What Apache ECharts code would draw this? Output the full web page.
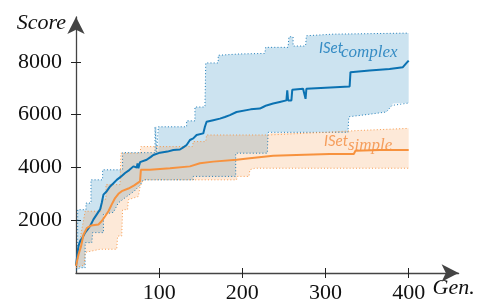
<!DOCTYPE html>
<html>
<head>
<meta charset="utf-8">
<script src="https://cdn.jsdelivr.net/npm/echarts@6/dist/echarts.min.js"></script>
<style>
  html, body { margin: 0; padding: 0; background: #fff; }
  #chart { width: 477px; height: 299px; }
</style>
</head>
<body>
<div id="chart"></div>
<script>
// tick positions
var xTicks = [100, 200, 300, 400]
var yTicks = [2000, 4000, 6000, 8000]

// ISet complex: median and band edges, [generation, score]
var complexMedian = [[0, 300], [1, 530], [3, 1030], [5, 1210], [8, 1350], [11, 1530], [14, 1650], [17, 1780], [21, 2030], [25, 2220],
  [29, 2410], [31, 2660], [33, 2970], [37, 3100], [41, 3280], [45, 3400], [49, 3530], [54, 3650], [59, 3790], [64, 3900],
  [69, 4040], [71, 4100], [73, 4000], [74, 4150], [75, 3970], [77, 4200], [79, 4220], [85, 4290], [90, 4400], [93, 4470],
  [101, 4560], [110, 4600], [117, 4660], [125, 4680], [129, 4760], [133, 4850], [137, 5040], [141, 5100], [145, 5230], [153, 5290],
  [155, 5540], [157, 5730], [165, 5790], [173, 5850], [179, 5910], [185, 5980], [193, 6100], [195, 6170], [210, 6200], [221, 6230],
  [225, 6290], [229, 6350], [237, 6420], [245, 6480], [253, 6540], [254, 6920], [255, 6540], [259, 6540], [260, 6940], [273, 6980],
  [275, 6980], [276, 6600], [277, 6980], [329, 7070], [330, 7610], [353, 7670], [377, 7730], [393, 7800], [398, 7980], [400, 8050]]
var complexUpper = [[0, 300], [2, 500], [2, 2400], [12, 2400], [12, 2650], [18, 2650], [18, 3530], [32, 3530], [32, 3910], [56, 3910],
  [56, 4560], [95, 4560], [95, 5540], [97, 5540], [97, 4600], [99, 4600], [99, 5540], [133, 5540], [133, 5765], [143, 5765],
  [143, 6290], [155, 6290], [156, 7960], [171, 7960], [171, 8250], [197, 8300], [227, 8320], [228, 8550], [255, 8550], [256, 8950],
  [261, 8950], [261, 8600], [276, 8600], [277, 8990], [309, 9050], [400, 9090]]
var complexLower = [[0, 100], [5, 200], [11, 200], [11, 1150], [19, 1150], [20, 1530], [33, 1530], [33, 2220], [45, 2300], [51, 2660],
  [59, 2850], [70, 3100], [77, 3330], [81, 3530], [141, 3530], [141, 3660], [192, 3660], [192, 4540], [230, 4540], [231, 5330],
  [327, 5330], [328, 5920], [349, 6000], [373, 6100], [380, 6350], [381, 6420], [400, 6440]]

// ISet simple: median and band edges
var simpleMedian = [[0, 270], [3, 700], [6, 1000], [9, 1450], [13, 1700], [18, 1800], [27, 1840], [31, 1970], [35, 2150], [39, 2340],
  [43, 2600], [47, 2840], [51, 3000], [55, 3100], [63, 3200], [70, 3320], [77, 3470], [78, 3910], [89, 3910], [113, 3970],
  [137, 4040], [149, 4160], [165, 4220], [193, 4290], [209, 4350], [237, 4440], [265, 4470], [305, 4510], [334, 4510], [336, 4630],
  [365, 4660], [400, 4660]]
var simpleUpper = [[0, 280], [5, 1300], [11, 2340], [30, 2340], [31, 2800], [36, 2800], [36, 3350], [53, 3350], [54, 4540], [77, 4540],
  [78, 4790], [140, 4790], [141, 4980], [156, 4980], [157, 5230], [232, 5230], [233, 5300], [300, 5330], [340, 5400], [400, 5480]]
var simpleLower = [[0, 200], [10, 300], [11, 780], [29, 900], [49, 900], [50, 1400], [55, 1400], [56, 2400], [62, 2400], [63, 2780],
  [75, 2900], [77, 3280], [81, 3530], [193, 3530], [194, 3660], [208, 3660], [209, 3910], [215, 3970], [400, 3970]]

var blue = '#0b72b2'
var orange = '#f7923e'
var serif = 'Liberation Serif'

function band (upper, lower, fill) {
  return function (params, api) {
    var pts = upper.map(function (p) { return api.coord(p) })
    var back = lower.slice().reverse().map(function (p) { return api.coord(p) })
    return {
      type: 'polygon',
      shape: { points: pts.concat(back) },
      style: { fill: fill },
      silent: true
    }
  }
}

function edge (data, color) {
  return {
    type: 'line', data: data, showSymbol: false, silent: true, z: 3,
    lineStyle: { color: color, width: 1, type: [1, 2.2], opacity: 0.9 }
  }
}

function median (data, color) {
  return {
    type: 'line', data: data, showSymbol: false, silent: true, z: 4,
    lineStyle: { color: color, width: 2 }
  }
}

function valueAxis (min, max, ticks, inside) {
  return {
    type: 'value', min: min, max: max,
    splitLine: { show: false },
    axisLine: inside ? { show: false } : {
      show: true, symbol: ['none', 'arrow'], symbolSize: [13, 17],
      lineStyle: { color: '#444', width: 1.3 }
    },
    axisTick: { show: true, inside: inside, length: 5, customValues: ticks, lineStyle: { color: '#222', width: 1 } },
    axisLabel: inside ? { show: false } : {
      customValues: ticks, fontFamily: serif, fontSize: 22, color: '#111',
      formatter: function (v) { return String(v) }
    }
  }
}

var xMain = valueAxis(0, 460, xTicks, false)
xMain.axisLabel.margin = 9
xMain.name = 'Gen.'
xMain.nameLocation = 'end'
xMain.nameGap = -26
xMain.nameTextStyle = { fontFamily: serif, fontStyle: 'italic', fontSize: 22, color: '#111', align: 'left', verticalAlign: 'top', padding: [4, 0, 0, 0] }

var yMain = valueAxis(0, 9700, yTicks, false)
yMain.axisLabel.margin = 14
yMain.name = 'Score'
yMain.nameLocation = 'end'
yMain.nameGap = -6
yMain.nameTextStyle = { fontFamily: serif, fontStyle: 'italic', fontSize: 22, color: '#111', align: 'right', verticalAlign: 'middle', padding: [0, 10, 0, 0] }

var xInner = valueAxis(0, 460, xTicks, true)
var yInner = valueAxis(0, 9700, yTicks, true)
xInner.position = 'bottom'
yInner.position = 'left'
xMain.position = 'bottom'
yMain.position = 'left'

var chart = echarts.init(document.getElementById('chart'))

var option = {
  animation: false,
  backgroundColor: '#fff',
  grid: { left: 76, right: 18.4, top: 17, bottom: 26, containLabel: false, outerBoundsMode: 'none' },
  xAxis: [xMain, xInner],
  yAxis: [yMain, yInner],
  series: [
    { type: 'custom', renderItem: band(complexUpper, complexLower, 'rgba(0,114,178,0.2)'), data: [[0, 0]], z: 1, silent: true },
    { type: 'custom', renderItem: band(simpleUpper, simpleLower, 'rgba(245,146,62,0.2)'), data: [[0, 0]], z: 2, silent: true },
    edge(complexUpper, blue),
    edge(complexLower, blue),
    edge(simpleUpper, orange),
    edge(simpleLower, orange),
    median(complexMedian, blue),
    median(simpleMedian, orange)
  ],
  graphic: [
    { type: 'text', x: 319, y: 56, style: { text: 'ISet', font: 'italic 15px Lato', fill: '#4493c9', verticalAlign: 'bottom' } },
    { type: 'text', x: 341, y: 61, style: { text: 'complex', font: 'italic 17px "Liberation Serif"', fill: '#4493c9', verticalAlign: 'bottom' } },
    { type: 'text', x: 324, y: 149, style: { text: 'ISet', font: 'italic 15px Lato', fill: '#f6a266', verticalAlign: 'bottom' } },
    { type: 'text', x: 348, y: 154, style: { text: 'simple', font: 'italic 17px "Liberation Serif"', fill: '#f6a266', verticalAlign: 'bottom' } }
  ]
}

chart.setOption(option)
</script>
</body>
</html>
